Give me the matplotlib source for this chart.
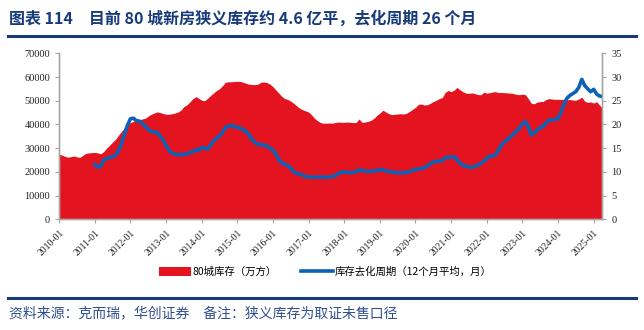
import matplotlib
matplotlib.use("Agg")
import matplotlib.pyplot as plt
from matplotlib.patches import Patch
from matplotlib.lines import Line2D
import pandas as pd

plt.rcParams["font.family"] = ["Noto Sans CJK SC", "DejaVu Sans"]

# 80城库存（万方），月度 2010-01 ~ 2025-04
inventory = [
    27500, 27000, 26500, 26200, 26400, 26700, 26300, 26100, 27000, 27800, 28000, 28100,  # 2010
    28200, 28000, 27600, 28500, 30000, 31200, 32500, 33700, 35500, 37000, 38600, 39800,  # 2011
    40800, 41300, 41800, 42000, 42300, 42600, 43500, 44300, 44800, 45300, 45000, 44600,  # 2012
    44300, 44300, 44500, 44800, 45200, 46000, 47500, 48200, 49500, 50800, 51700, 51000,  # 2013
    50200, 50000, 51000, 52200, 53200, 54300, 55000, 56300, 57800, 58000, 58000, 58100,  # 2014
    58200, 58100, 57800, 57300, 57000, 56800, 56800, 57000, 57800, 57900, 57600, 57000,  # 2015
    55900, 54500, 53200, 51800, 50900, 50500, 49800, 48900, 47800, 46800, 46200, 45700,  # 2016
    45200, 44000, 42600, 41600, 40800, 40500, 40500, 40600, 40500, 40800, 41000, 40900,  # 2017
    40900, 41000, 40900, 40800, 40800, 42300, 40900, 41000, 41300, 41700, 42600, 43800,  # 2018
    44800, 46000, 45300, 44600, 44100, 44300, 44400, 44500, 44400, 44700, 45500, 46300,  # 2019
    47200, 48500, 48600, 48200, 48300, 48900, 49600, 50200, 50900, 51300, 53500, 54300,  # 2020
    53800, 54500, 55600, 54600, 53800, 53200, 53100, 53300, 53000, 52600, 52500, 53600,  # 2021
    53200, 53400, 53700, 53800, 53400, 53500, 53400, 53300, 53200, 53000, 52700, 52500,  # 2022
    52800, 52500, 51000, 49000, 48700, 49400, 49600, 49700, 50500, 50900, 50700, 50600,  # 2023
    50600, 50500, 50600, 50400, 50500, 50300, 50200, 50700, 51500, 49800, 49300, 49500,  # 2024
    49000, 49600, 48200, 46800,  # 2025
]

# 库存去化周期（12个月平均，月），2011-01 ~ 2025-04
cycle = [
    11.5, 11.0, 11.2, 12.5, 12.8, 13.0, 13.2, 13.5, 14.5, 16.0, 18.0, 19.8,  # 2011
    21.2, 21.3, 20.8, 20.7, 20.2, 19.6, 19.0, 18.5, 18.4, 18.3, 17.5, 16.7,  # 2012
    15.5, 14.5, 14.0, 13.7, 13.6, 13.6, 13.7, 13.8, 14.0, 14.3, 14.6, 14.5,  # 2013
    15.2, 15.0, 14.8, 15.6, 16.5, 17.0, 17.6, 18.3, 19.3, 19.7, 19.8, 19.5,  # 2014
    19.4, 19.2, 18.9, 18.5, 17.8, 16.8, 16.2, 15.8, 15.7, 15.7, 15.4, 15.0,  # 2015
    14.6, 13.8, 12.5, 11.9, 11.6, 11.3, 10.8, 10.0, 9.7, 9.5, 9.3, 9.0,  # 2016
    8.9, 8.9, 8.9, 8.9, 8.9, 8.9, 8.9, 8.9, 9.0, 9.2, 9.6, 9.9,  # 2017
    10.0, 9.9, 9.8, 9.9, 10.0, 10.5, 10.2, 10.2, 10.1, 10.1, 10.2, 10.3,  # 2018
    10.5, 10.4, 10.2, 10.1, 10.0, 9.9, 9.8, 9.8, 9.8, 9.9, 10.0, 10.3,  # 2019
    10.5, 10.6, 10.7, 10.9, 11.2, 11.7, 12.1, 12.2, 12.2, 12.4, 13.0, 13.1,  # 2020
    13.1, 13.2, 12.6, 11.8, 11.4, 11.2, 11.0, 11.0, 11.1, 11.4, 11.8, 12.2,  # 2021
    12.8, 13.3, 13.4, 13.6, 14.6, 15.7, 16.3, 16.8, 17.4, 18.0, 18.6, 19.2,  # 2022
    20.1, 20.6, 19.6, 17.8, 18.2, 18.8, 19.3, 19.6, 20.3, 20.9, 21.0, 21.1,  # 2023
    21.2, 22.6, 24.2, 25.5, 26.1, 26.5, 26.9, 27.8, 29.5, 28.2, 27.5, 26.9,  # 2024
    27.4, 26.4, 26.0, 25.9,  # 2025
]

inv_dates = pd.date_range("2010-01-01", periods=len(inventory), freq="MS")
cyc_dates = pd.date_range("2011-01-01", periods=len(cycle), freq="MS")
tick_years = list(range(2010, 2026))

red = "#E3141F"
blue = "#0D62B5"
navy = "#173A7A"
grey = "#A6A6A6"
num_font = "Liberation Serif"

fig = plt.figure(figsize=(6.44, 3.30), dpi=100)
ax = fig.add_axes([0.092, 0.3355, 0.8435, 0.503])
ax2 = ax.twinx()

ax.fill_between(inv_dates, inventory, 0, color=red, lw=0)
ax2.plot(cyc_dates, cycle, color=blue, lw=2.6)

ax.set_xlim(inv_dates[0], inv_dates[-1])
ax.set_ylim(0, 70000)
ax2.set_ylim(0, 35)
ax.set_yticks(range(0, 70001, 10000))
ax2.set_yticks(range(0, 36, 5))

ticks = [pd.Timestamp(f"{y}-01-01") for y in tick_years]
ax.set_xticks(ticks)
ax.set_xticklabels([f"{y}-01" for y in tick_years], rotation=45, ha="right",
                   rotation_mode="anchor", fontsize=7, family=num_font)
for lab in ax.get_yticklabels() + ax2.get_yticklabels():
    lab.set_fontfamily(num_font)
    lab.set_fontsize(7.5)

for a in (ax, ax2):
    a.spines["top"].set_visible(False)
    for s in ("left", "right", "bottom"):
        a.spines[s].set_color(grey)
        a.spines[s].set_linewidth(1.0)
    a.tick_params(colors=grey, labelcolor="#222222", length=3, width=0.8)

handles = [Patch(facecolor=red, edgecolor="none"),
           Line2D([0], [0], color=blue, lw=2.6)]
labels = ["80城库存（万方）", "库存去化周期（12个月平均，月）"]
fig.legend(handles, labels, loc="center", bbox_to_anchor=(0.505, 0.176), ncol=2,
           frameon=False, fontsize=7.5, handlelength=3.0, handleheight=0.9,
           columnspacing=2.4, handletextpad=0.15)

fig.text(0.014, 0.945, "图表 114　目前 80 城新房狭义库存约 4.6 亿平，去化周期 26 个月",
         fontsize=11.5, fontweight="bold", color=navy, va="center")
fig.add_artist(Line2D([0.012, 0.988], [1 - 36 / 330, 1 - 36 / 330], color=navy, lw=2.2))
fig.add_artist(Line2D([0.012, 0.988], [1 - 298 / 330, 1 - 298 / 330], color=navy, lw=2.2))
fig.text(0.014, 1 - 313 / 330, "资料来源：克而瑞，华创证券　备注：狭义库存为取证未售口径",
         fontsize=10, color="#2F4E8F", va="center")

fig.savefig("out.png", dpi=100)
